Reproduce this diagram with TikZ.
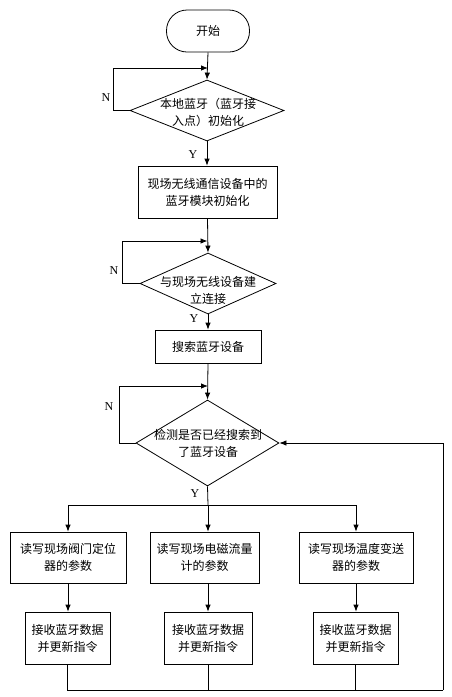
\documentclass[tikz,border=0pt]{standalone}
\usepackage{fontspec}
\setmainfont{Liberation Serif}
\newfontfamily\cjk{Noto Sans CJK SC}
\usetikzlibrary{shapes.geometric,arrows.meta}
\tikzset{
  x=1pt,y=-1pt,
  every path/.style={line width=0.8pt},
  arr/.style={-{Latex[length=7pt,width=5.5pt]}},
  box/.style={draw,rectangle,inner sep=0pt},
  dia/.style={draw,diamond,inner sep=0pt},
  txt/.style={font=\cjk\fontsize{12}{17}\selectfont,align=center,inner sep=0pt},
  yn/.style={font=\fontsize{12}{14}\selectfont,inner sep=0pt}
}
\begin{document}
\begin{tikzpicture}
\useasboundingbox (0,0) rectangle (452,697);
% nodes
\node[box,rounded corners=20.5pt,minimum width=83pt,minimum height=42pt,txt] (start) at (208,31) {开始};
\node[dia,minimum width=154pt,minimum height=61pt] (d1) at (207,110.5) {};
\node[txt] (t1) at (208,112) {本地蓝牙（蓝牙接\\入点）初始化};
\node[box,minimum width=139pt,minimum height=52pt,txt] (b1) at (207.5,192) {现场无线通信设备中的\\蓝牙模块初始化};
\node[dia,minimum width=136pt,minimum height=61pt] (d2) at (208,283.5) {};
\node[txt] (t2) at (208,290) {与现场无线设备建\\立连接};
\node[box,minimum width=106pt,minimum height=33pt,txt] (b2) at (208,346.5) {搜索蓝牙设备};
\node[dia,minimum width=143pt,minimum height=86pt] (d3) at (207.5,443) {};
\node[txt] (t3) at (208,443) {检测是否已经搜索到\\了蓝牙设备};
\node[box,minimum width=116pt,minimum height=51pt,txt] (rA) at (68,557.5) {读写现场阀门定位\\器的参数};
\node[box,minimum width=109pt,minimum height=51pt,txt] (rB) at (204.5,557.5) {读写现场电磁流量\\计的参数};
\node[box,minimum width=114pt,minimum height=51pt,txt] (rC) at (356,557.5) {读写现场温度变送\\器的参数};
\node[box,minimum width=85pt,minimum height=52pt,txt] (sA) at (67.5,638) {接收蓝牙数据\\并更新指令};
\node[box,minimum width=88pt,minimum height=52pt,txt] (sB) at (208,638) {接收蓝牙数据\\并更新指令};
\node[box,minimum width=85pt,minimum height=52pt,txt] (sC) at (355.5,638) {接收蓝牙数据\\并更新指令};
% labels
\node[yn] (n1) at (106,98) {N};
\node[yn] (y1) at (193,155) {Y};
\node[yn] (n2) at (114,271) {N};
\node[yn] (y2) at (194,319) {Y};
\node[yn] (n3) at (109,407) {N};
\node[yn] (y3) at (195,494) {Y};
% coordinates
\coordinate (c1) at (113,68);
\coordinate (c2) at (122,241);
\coordinate (c3) at (119,386);
\coordinate (j3) at (208,505);
\coordinate (bot) at (443,690);
% connectors
\draw[arr] (start.south) -- (d1.north);
\draw[arr] (d1.west) -| (c1) -- (start.south |- c1);
\draw[arr] (d1.south) -- (d1.south |- b1.north);
\draw[arr] (b1.south) -- (d2.north);
\draw[arr] (d2.west) -| (c2) -- (b1.south |- c2);
\draw[arr] (d2.south) -- (b2.north);
\draw[arr] (b2.south) -- (d3.north);
\draw[arr] (d3.west) -| (c3) -- (b2.south |- c3);
\draw (d3.south) -- (j3);
\draw[arr] (j3) -| (rA.north);
\draw[arr] (j3) -- (j3 |- rB.north);
\draw[arr] (j3) -| (rC.north);
\draw[arr] (rA.south) -- (rA.south |- sA.north);
\draw[arr] (j3 |- rB.south) -- (sB.north);
\draw[arr] (rC.south) -- (rC.south |- sC.north);
\draw (sA.south) |- (bot);
\draw (sB.south) -- (sB.south |- bot);
\draw (sC.south) -- (sC.south |- bot);
\draw[arr] (bot) |- (d3.east);
\end{tikzpicture}
\end{document}
